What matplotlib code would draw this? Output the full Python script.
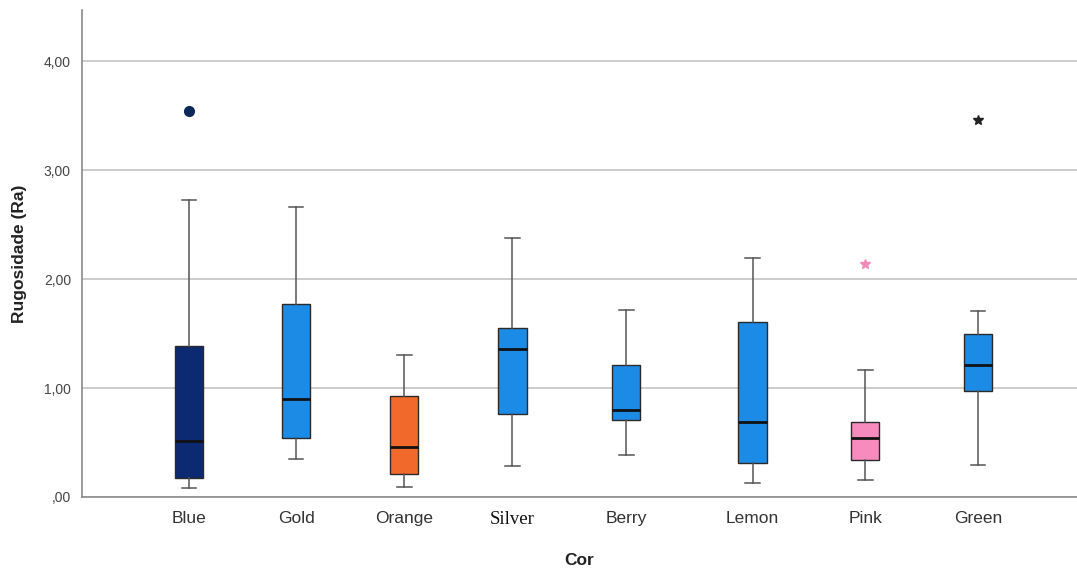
import matplotlib
matplotlib.use("Agg")
import matplotlib.pyplot as plt

# Roughness (Ra) distribution per colour group
categories = ["Blue", "Gold", "Orange", "Silver", "Berry", "Lemon", "Pink", "Green"]
whisker_low = [0.08, 0.35, 0.09, 0.28, 0.39, 0.13, 0.16, 0.29]
q1 = [0.17, 0.54, 0.21, 0.76, 0.71, 0.31, 0.34, 0.97]
median = [0.51, 0.90, 0.46, 1.36, 0.80, 0.69, 0.54, 1.21]
q3 = [1.39, 1.77, 0.93, 1.55, 1.21, 1.61, 0.69, 1.50]
whisker_high = [2.73, 2.66, 1.30, 2.38, 1.72, 2.19, 1.17, 1.71]
outliers = [[3.54], [], [], [], [], [], [], []]
extremes = [[], [], [], [], [], [], [2.14], [3.46]]

box_colors = ["#0b2a72", "#1c8be6", "#f26a2b", "#1c8be6",
              "#1c8be6", "#1c8be6", "#f78bbd", "#1c8be6"]
extreme_colors = {6: "#f28ab8", 7: "#222222"}
positions = [1.0, 1.95, 2.91, 3.87, 4.88, 6.0, 7.0, 8.0]

fig = plt.figure(figsize=(10.77, 5.70), dpi=100)
ax = fig.add_axes([82 / 1077, 1 - 497 / 570, 1 - 82 / 1077, (497 - 10) / 570])

stats = []
for i, name in enumerate(categories):
    stats.append(dict(label=name, whislo=whisker_low[i], q1=q1[i], med=median[i],
                      q3=q3[i], whishi=whisker_high[i], fliers=outliers[i]))

bp = ax.bxp(stats, positions=positions, widths=0.25, patch_artist=True,
            showfliers=True,
            boxprops=dict(edgecolor="#2a2a2a", linewidth=1.0),
            medianprops=dict(color="#111111", linewidth=2.0),
            whiskerprops=dict(color="#555555", linewidth=1.1),
            capprops=dict(color="#555555", linewidth=1.1),
            capwidths=0.13,
            flierprops=dict(marker="o", markersize=7, markerfacecolor="#0b2a5a",
                            markeredgecolor="#0b2a5a"),
            zorder=3)
for patch, c in zip(bp["boxes"], box_colors):
    patch.set_facecolor(c)

for i, vals in enumerate(extremes):
    if vals:
        ax.plot([positions[i]] * len(vals), vals, linestyle="none", marker="*",
                markersize=7, color=extreme_colors[i], zorder=4)

ax.set_xlim(0.051, 8.878)
ax.set_ylim(0, 4.47)
ax.set_yticks([0, 1, 2, 3, 4])
ax.set_yticklabels([",00", "1,00", "2,00", "3,00", "4,00"],
                   fontsize=10, color="#444444", family="Liberation Sans")
ax.yaxis.grid(True, color="#c4c4c4", linewidth=1.2, zorder=0)
ax.set_axisbelow(True)
ax.tick_params(axis="y", length=0, pad=8)
ax.tick_params(axis="x", length=0, pad=10)

ax.set_xticks(positions)
ax.set_xticklabels(categories, fontsize=12.5, color="#333333", family="Liberation Sans")
ax.get_xticklabels()[3].set_family("Liberation Serif")
ax.get_xticklabels()[3].set_fontsize(13.5)
ax.get_xticklabels()[3].set_color("#111111")

ax.set_xlabel("Cor", fontsize=12.5, fontweight="bold", family="Liberation Sans",
              color="#222222", labelpad=18)
ax.set_ylabel("Rugosidade (Ra)", fontsize=12.5, fontweight="bold",
              family="Liberation Sans", color="#222222", labelpad=12)

for side in ("top", "right"):
    ax.spines[side].set_visible(False)
ax.spines["left"].set_color("#8a8a8a")
ax.spines["bottom"].set_color("#8a8a8a")
ax.spines["left"].set_linewidth(1.2)
ax.spines["bottom"].set_linewidth(1.2)

fig.savefig("out.png", dpi=100, facecolor="white")
